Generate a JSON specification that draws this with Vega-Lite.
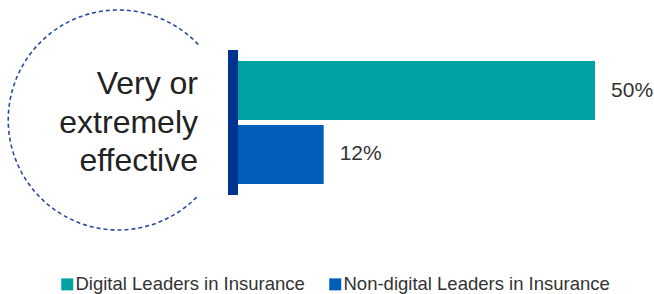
{
  "$schema": "https://vega.github.io/schema/vega-lite/v6.json",
  "width": 654,
  "height": 245,
  "autosize": {"type": "none"},
  "padding": {"left": 0, "top": 0, "right": 0, "bottom": 49},
  "background": "white",
  "config": {"view": {"stroke": null}, "font": "Liberation Sans"},
  "datasets": {
    "bars": [
      {"series": "Digital Leaders in Insurance", "value": 50, "label": "50%"},
      {"series": "Non-digital Leaders in Insurance", "value": 12, "label": "12%"}
    ],
    "category": [
      {"category": "Very or\nextremely\neffective"}
    ]
  },
  "layer": [
    {
      "data": {"name": "category"},
      "mark": {
        "type": "point",
        "shape": "M 0.727 -0.709 A 1 1 0 1 0 0.727 0.663",
        "size": 48400,
        "filled": false,
        "stroke": "#2A4A9E",
        "strokeWidth": 1.6,
        "strokeDash": [4, 3],
        "opacity": 1
      },
      "encoding": {
        "x": {"datum": -16.76, "type": "quantitative", "scale": {"domain": [-33.33, 58.26], "nice": false, "zero": false}, "axis": null}
      }
    },
    {
      "data": {"name": "category"},
      "mark": {
        "type": "text",
        "align": "right",
        "baseline": "middle",
        "lineBreak": "\n",
        "fontSize": 32,
        "lineHeight": 38.5,
        "dy": -38.5,
        "color": "#222222"
      },
      "encoding": {
        "x": {"datum": -5.6, "type": "quantitative", "scale": {"domain": [-33.33, 58.26], "nice": false, "zero": false}, "axis": null},
        "text": {"field": "category", "type": "nominal"}
      }
    },
    {
      "data": {"name": "category"},
      "mark": {"type": "tick", "orient": "vertical", "size": 145, "thickness": 10, "color": "#00338D", "opacity": 1},
      "encoding": {
        "x": {"datum": -0.7, "type": "quantitative", "scale": {"domain": [-33.33, 58.26], "nice": false, "zero": false}, "axis": null}
      }
    },
    {
      "data": {"name": "bars"},
      "mark": {"type": "bar"},
      "encoding": {
        "y": {"field": "series", "type": "nominal", "sort": null, "axis": null,
              "scale": {"paddingInner": 0.078125, "paddingOuter": 0.9551, "align": 0.5}},
        "x": {"field": "value", "type": "quantitative", "scale": {"domain": [-33.33, 58.26], "nice": false, "zero": false}, "axis": null},
        "color": {
          "field": "series", "type": "nominal",
          "scale": {"domain": ["Digital Leaders in Insurance", "Non-digital Leaders in Insurance"], "range": ["#00A3A1", "#005EB8"]},
          "legend": {
            "title": null,
            "orient": "none",
            "legendX": 58,
            "legendY": 275,
            "direction": "horizontal",
            "symbolType": "square",
            "symbolSize": 144,
            "symbolStrokeWidth": 0,
            "symbolOpacity": 1,
            "labelFontSize": 18.5,
            "labelColor": "#333333",
            "labelOffset": -1,
            "labelLimit": 0,
            "columnPadding": 21,
            "padding": 0
          }
        }
      }
    },
    {
      "data": {"name": "bars"},
      "mark": {"type": "text", "align": "left", "baseline": "middle", "dx": 16, "fontSize": 21, "color": "#333333"},
      "encoding": {
        "y": {"field": "series", "type": "nominal", "sort": null, "axis": null,
              "scale": {"paddingInner": 0.078125, "paddingOuter": 0.9551, "align": 0.5}},
        "x": {"field": "value", "type": "quantitative", "scale": {"domain": [-33.33, 58.26], "nice": false, "zero": false}, "axis": null},
        "text": {"field": "label", "type": "nominal"}
      }
    }
  ]
}
